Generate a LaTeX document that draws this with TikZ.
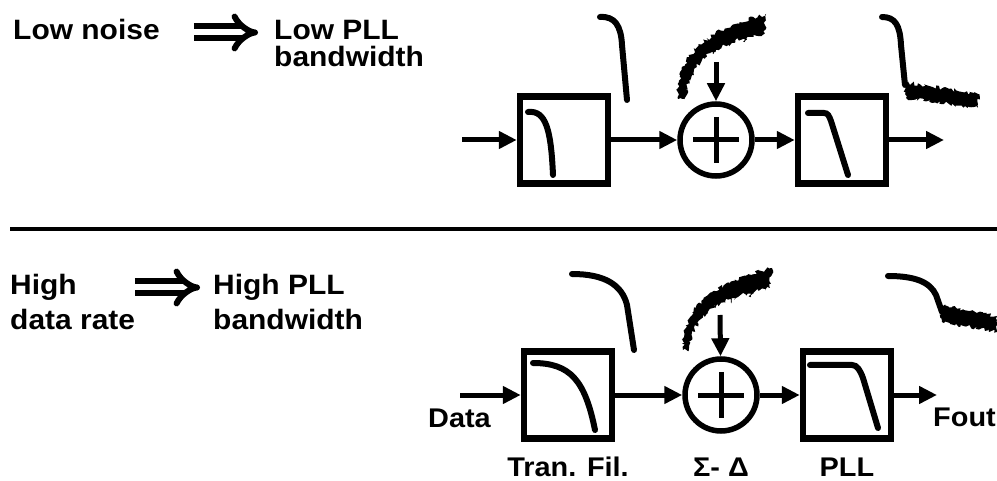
\documentclass[tikz,border=0pt]{standalone}
\usepackage{fontspec}
\setmainfont{Liberation Sans}[FakeStretch=1.07]
\usetikzlibrary{arrows.meta,positioning,decorations.pathmorphing}

\begin{document}
\begin{tikzpicture}[
x=1pt, y=-1pt,
every node/.style={font=\fontsize{28}{32}\selectfont\bfseries, inner sep=0pt, text height=21pt, text depth=6pt},
label_style/.style={font=\fontsize{27}{30}\selectfont\bfseries},
block/.style={rectangle, draw, line width=6.5pt, minimum width=88pt, minimum height=87pt},
adder/.style={circle, draw, line width=5.5pt, minimum size=72pt},
arrow/.style={-{Triangle[length=18pt,width=17pt]}, line width=5pt},
implies/.style={double, line width=6pt, double distance=6pt, -{Implies}},
resp/.style={line width=6pt, line cap=round},
noise/.style={fill=black, decorate, decoration={random steps, segment length=2pt, amplitude=2pt}}
]
\pgfmathsetseed{7}
\path[use as bounding box, fill=white] (0,0) rectangle (997,481);

% Top: low noise

\node[anchor=base west] (lownoise) at (13,40) {Low noise};
\node[anchor=base west] (lowpll) at (274,40) {Low PLL};
\node[anchor=base west] (lowbw) at (274,67) {bandwidth};
\draw[implies, shorten <=34pt, shorten >=16pt] (lownoise.east) -- (lowpll.west);

% Top signal chain

\coordinate (in1) at (462,140);
\node[block] (tf1) at (564,140) {};
\node[adder] (sum1) at (716,140) {};
\node[block] (pll1) at (842,140) {};
\coordinate (out1) at (944,140);
\coordinate (dn1) at (716,62);
\draw[arrow] (in1) -- (tf1);
\draw[arrow] (tf1) -- (sum1);
\draw[arrow] (sum1) -- (pll1);
\draw[arrow] (pll1) -- (out1);
\draw[arrow] (dn1) -- (sum1);
\draw[line width=5pt] (sum1.center) +(-23,0) -- +(23,0) (sum1.center) +(0,-23) -- +(0,23);

% Top filter shapes and spectra

\draw[resp] (528,112) .. controls (546,110) and (551,130) .. (553,175);
\draw[resp] (808,113) -- (824,113) .. controls (828,113) and (829,116) .. (831,121) -- (848,175);
\draw[resp] (600,17) .. controls (615,16) and (621,26) .. (622,45) -- (627,100);
\fill[noise] (678,99) .. controls (677,55) and (705,30) .. (766,14) -- (764,34) .. controls (716,42) and (690,60) .. (685,99) -- cycle;
\draw[noise] (728,38) -- (729,46) (712,44) -- (713,54) (744,34) -- (745,42);
\draw[resp] (882,17) .. controls (895,17) and (900,25) .. (901,45) -- (905,85);
\fill[noise] (904,82) -- (978,94) -- (978,108) -- (906,98) -- cycle;

% Separator

\draw[line width=4.5pt] (10,229) -- (997,229);

% Bottom: high data rate

\node[anchor=base west] (high) at (10,295) {High};
\node[anchor=base west] (datarate) at (10,330) {data rate};
\node[anchor=base west] (highpll) at (213,295) {High PLL};
\node[anchor=base west] (highbw) at (213,330) {bandwidth};
\draw[implies, shorten <=58pt, shorten >=13pt] (high.east) -- (highpll.west);

% Bottom signal chain

\coordinate (in2) at (460,395);
\node[block] (tf2) at (568,395) {};
\node[adder] (sum2) at (721,395) {};
\node[block] (pll2) at (847,395) {};
\coordinate (out2) at (937,395);
\coordinate (dn2) at (720,315);
\draw[arrow] (in2) -- (tf2);
\draw[arrow] (tf2) -- (sum2);
\draw[arrow] (sum2) -- (pll2);
\draw[arrow] (pll2) -- (out2);
\draw[arrow] (dn2) -- (sum2);
\draw[line width=5pt] (sum2.center) +(-23,0) -- +(23,0) (sum2.center) +(0,-23) -- +(0,23);

\node[label_style, anchor=base west] (data) at (428,428) {Data};
\node[label_style, anchor=base east] (fout) at (996,426) {Fout};
\node[label_style, below=14pt of tf2] (tflabel) {Tran. Fil.};
\node[label_style, below=22pt of sum2] (sdlabel) {Σ- Δ};
\node[label_style, below=14pt of pll2] (plllabel) {PLL};

% Bottom filter shapes and spectra

\draw[resp] (533,363) .. controls (570,363) and (585,380) .. (595,430);
\draw[resp] (810,365) -- (852,365) .. controls (857,365) and (860,370) .. (863,378) -- (878,428);
\draw[resp] (572,274) .. controls (605,274) and (622,285) .. (627,305) -- (634,350);
\fill[noise] (683,350) .. controls (683,305) and (712,284) .. (772,268) -- (770,288) .. controls (720,298) and (694,312) .. (689,350) -- cycle;
\draw[noise] (730,293) -- (731,302) (714,298) -- (715,308) (750,289) -- (751,297);
\draw[resp] (888,276) .. controls (915,276) and (930,282) .. (936,295) -- (942,312);
\fill[noise] (940,305) -- (997,316) -- (997,332) -- (942,322) -- cycle;

\end{tikzpicture}
\end{document}
